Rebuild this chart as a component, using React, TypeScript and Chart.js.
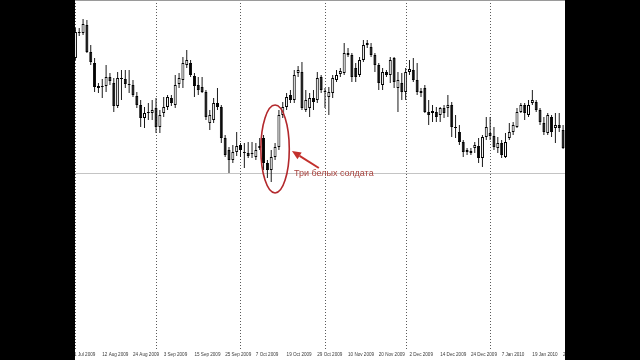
import React, { useEffect, useRef } from "react";
import { Chart, registerables } from "chart.js";

Chart.register(...registerables);

// Daily candles, 3 Aug 2009 .. 29 Jan 2010 (index 0..127), price in chart points
const OPEN = [
  342, 367, 367, 375, 348, 337, 314, 313, 314, 323,
  317, 294, 322, 321, 315, 315, 304, 295, 282, 287,
  287, 292, 273, 287, 293, 302, 295, 316, 320, 335,
  337, 324, 315, 313, 308, 277, 280, 297, 293, 262,
  250, 240, 248, 255, 247, 247, 246, 243, 254, 262,
  237, 230, 243, 253, 285, 293, 305, 300, 327, 328,
  290, 292, 302, 300, 323, 308, 303, 307, 320, 326,
  327, 347, 345, 332, 325, 340, 355, 353, 345, 335,
  315, 328, 325, 342, 312, 317, 308, 328, 330, 320,
  307, 312, 288, 287, 288, 285, 292, 292, 295, 273,
  268, 258, 250, 249, 252, 254, 242, 263, 267, 264,
  252, 257, 243, 262, 268, 273, 288, 295, 285, 297,
  298, 290, 277, 267, 283, 272, 275, 270,
];
const CLOSE = [
  368, 368, 376, 348, 338, 313, 312, 314, 323, 319,
  294, 322, 321, 316, 316, 305, 295, 282, 287, 288,
  290, 273, 285, 293, 303, 297, 315, 322, 337, 340,
  325, 314, 310, 308, 283, 285, 297, 293, 262, 245,
  240, 248, 254, 250, 248, 244, 247, 250, 252, 237,
  230, 243, 253, 285, 293, 303, 300, 325, 330, 292,
  300, 302, 298, 322, 310, 309, 308, 322, 325, 329,
  347, 345, 323, 323, 340, 355, 357, 345, 335, 317,
  328, 325, 340, 318, 320, 308, 328, 331, 320, 308,
  309, 288, 285, 289, 283, 292, 287, 295, 273, 272,
  258, 248, 248, 247, 255, 242, 263, 273, 264, 253,
  257, 245, 258, 268, 275, 288, 295, 287, 295, 300,
  290, 278, 268, 285, 268, 275, 272, 252,
];
const HIGH = [
  372, 372, 381, 380, 355, 342, 317, 321, 335, 327,
  322, 328, 330, 330, 330, 320, 308, 300, 293, 297,
  300, 302, 290, 303, 305, 305, 325, 327, 343, 350,
  340, 327, 323, 323, 310, 290, 302, 312, 295, 265,
  253, 255, 268, 257, 257, 258, 258, 257, 262, 265,
  240, 250, 257, 290, 298, 307, 310, 330, 334, 338,
  310, 307, 310, 328, 325, 312, 313, 325, 330, 332,
  357, 352, 347, 337, 343, 360, 360, 357, 347, 337,
  332, 330, 343, 343, 328, 327, 332, 340, 342, 337,
  312, 315, 300, 295, 293, 293, 295, 305, 298, 285,
  275, 260, 252, 252, 258, 262, 265, 283, 283, 273,
  263, 260, 267, 277, 278, 292, 297, 297, 300, 310,
  300, 292, 283, 287, 285, 287, 287, 275,
];
const LOW = [
  340, 364, 365, 347, 335, 308, 307, 302, 308, 315,
  288, 292, 300, 312, 307, 303, 292, 273, 272, 280,
  280, 267, 267, 283, 290, 294, 292, 312, 312, 332,
  323, 303, 305, 307, 280, 270, 277, 290, 257, 243,
  227, 237, 244, 243, 232, 242, 242, 240, 250, 230,
  222, 218, 240, 250, 282, 290, 297, 297, 323, 290,
  288, 283, 290, 297, 307, 292, 285, 302, 318, 323,
  325, 343, 318, 318, 323, 338, 352, 343, 328, 310,
  310, 323, 317, 312, 288, 300, 300, 325, 318, 305,
  303, 287, 275, 278, 278, 278, 282, 283, 263, 262,
  255, 243, 245, 245, 247, 237, 233, 260, 260, 250,
  247, 242, 242, 260, 265, 272, 287, 280, 283, 295,
  288, 275, 265, 265, 263, 257, 268, 251,
];

const DATE_TICKS = [-1, 7, 15, 23, 31, 39, 47, 55, 63, 71, 79, 87, 95, 103, 111, 119, 127];
const DATE_LABELS = [
  "31 Jul 2009", "12 Aug 2009", "24 Aug 2009", "3 Sep 2009", "15 Sep 2009",
  "25 Sep 2009", "7 Oct 2009", "19 Oct 2009", "29 Oct 2009", "10 Nov 2009",
  "20 Nov 2009", "2 Dec 2009", "14 Dec 2009", "24 Dec 2009", "7 Jan 2010",
  "19 Jan 2010", "29 Jan 2010",
];
const GRID_POSITIONS = [0.05, 21.1, 43.0, 65.2, 86.2, 108.2];
const LEVEL_LINE = 227;
const TOP_LINE = 399;

const ANNOTATION_TEXT = "Три белых солдата";

const annotationPlugin = {
  id: "soldiers",
  afterDatasetsDraw(chart: any) {
    const { ctx } = chart;
    const xs = chart.scales.x;
    const ys = chart.scales.y;
    ctx.save();
    const cx = xs.getPixelForValue(52.0);
    const cy = ys.getPixelForValue(251);
    const rx = Math.abs(xs.getPixelForValue(55.7) - cx);
    const ry = Math.abs(ys.getPixelForValue(295) - cy);
    ctx.strokeStyle = "#b3282c";
    ctx.lineWidth = 1.6;
    ctx.beginPath();
    ctx.ellipse(cx, cy, rx, ry, 0, 0, Math.PI * 2);
    ctx.stroke();
    const x1 = xs.getPixelForValue(63.4);
    const y1 = ys.getPixelForValue(232);
    const x2 = xs.getPixelForValue(56.4);
    const y2 = ys.getPixelForValue(249);
    const ang = Math.atan2(y2 - y1, x2 - x1);
    const headLen = 9;
    const hx = x2 - headLen * Math.cos(ang);
    const hy = y2 - headLen * Math.sin(ang);
    ctx.strokeStyle = "#c3302c";
    ctx.fillStyle = "#c3302c";
    ctx.lineWidth = 2;
    ctx.beginPath();
    ctx.moveTo(x1, y1);
    ctx.lineTo(hx, hy);
    ctx.stroke();
    ctx.beginPath();
    ctx.moveTo(x2, y2);
    ctx.lineTo(hx + 4 * Math.sin(ang), hy - 4 * Math.cos(ang));
    ctx.lineTo(hx - 4 * Math.sin(ang), hy + 4 * Math.cos(ang));
    ctx.closePath();
    ctx.fill();
    ctx.fillStyle = "#a8443f";
    ctx.font = "9px 'Liberation Sans', Arial, sans-serif";
    ctx.textBaseline = "middle";
    ctx.textAlign = "left";
    ctx.fillText(ANNOTATION_TEXT, xs.getPixelForValue(56.9), ys.getPixelForValue(226));
    ctx.restore();
  },
};

const noPad = (s: any) => {
  s.paddingLeft = 0;
  s.paddingRight = 0;
  s.paddingTop = 0;
  s.paddingBottom = 0;
};

export default function App() {
  const ref = useRef<HTMLCanvasElement | null>(null);

  useEffect(() => {
    if (!ref.current) return;
    const idx = OPEN.map((_, i) => i);
    const bodies = idx.map((i) => {
      const lo = Math.min(OPEN[i], CLOSE[i]);
      const hi = Math.max(OPEN[i], CLOSE[i]);
      return { x: i, y: [lo, hi === lo ? hi + 1 : hi] };
    });
    const wicks = idx.map((i) => ({ x: i, y: [LOW[i], HIGH[i]] }));
    const bull = idx.map((i) => CLOSE[i] >= OPEN[i]);

    const chart = new Chart(ref.current, {
      type: "bar",
      data: {
        datasets: [
          {
            data: bodies as any,
            grouped: false,
            barThickness: 3,
            backgroundColor: bull.map((b) => (b ? "#ffffff" : "#000000")),
            borderColor: "#000000",
            borderWidth: 1,
            borderSkipped: false,
            inflateAmount: 0,
          } as any,
          {
            data: wicks as any,
            grouped: false,
            barThickness: 1,
            backgroundColor: "#1a1a1a",
            borderWidth: 0,
            borderSkipped: false,
            inflateAmount: 0,
          } as any,
        ],
      },
      options: {
        animation: false,
        responsive: false,
        devicePixelRatio: 1,
        layout: { padding: 0 },
        plugins: { legend: { display: false }, tooltip: { enabled: false } },
        scales: {
          x: {
            type: "linear",
            position: "bottom",
            min: -0.1,
            max: 127.5,
            offset: false,
            grid: { display: false, drawTicks: false, offset: false },
            border: { display: false },
            ticks: {
              autoSkip: false,
              maxRotation: 0,
              minRotation: 0,
              align: "start",
              padding: 3,
              color: "#3a3a3a",
              font: { size: 4.6, family: "'Liberation Sans', Arial, sans-serif" },
              callback: (v: any) => {
                const k = DATE_TICKS.indexOf(Number(v));
                return k >= 0 ? DATE_LABELS[k] : "";
              },
            },
            afterBuildTicks: (s: any) => {
              s.ticks = DATE_TICKS.map((v) => ({ value: v }));
            },
            afterFit: (s: any) => {
              s.height = 11;
              noPad(s);
            },
          },
          xg: {
            type: "linear",
            position: "bottom",
            min: -0.1,
            max: 127.5,
            offset: false,
            grid: { color: "#5a5a5a", drawTicks: false, lineWidth: 1, offset: false },
            border: { display: false, dash: [1, 2] },
            ticks: { display: false },
            afterBuildTicks: (s: any) => {
              s.ticks = GRID_POSITIONS.map((v) => ({ value: v }));
            },
            afterFit: (s: any) => {
              s.height = 0;
              noPad(s);
            },
          },
          y: {
            type: "linear",
            min: 51,
            max: 400,
            grid: {
              drawTicks: false,
              color: (c: any) => (c.tick && c.tick.value === TOP_LINE ? "#9a9a9a" : "#c4c4c4"),
            },
            border: { display: false },
            ticks: { display: false },
            afterBuildTicks: (s: any) => {
              s.ticks = [LEVEL_LINE, TOP_LINE].map((v) => ({ value: v }));
            },
            afterFit: (s: any) => {
              s.width = 0;
              noPad(s);
            },
          },
        },
      } as any,
      plugins: [annotationPlugin],
    });
    return () => chart.destroy();
  }, []);

  return (
    <div style={{ position: "fixed", left: 0, top: 0, width: 640, height: 360, background: "#000" }}>
      <div style={{ position: "absolute", left: 75, top: 0, width: 490, height: 360, background: "#fff" }}>
        <canvas ref={ref} width={490} height={360} style={{ display: "block", width: 490, height: 360 }} />
      </div>
    </div>
  );
}
